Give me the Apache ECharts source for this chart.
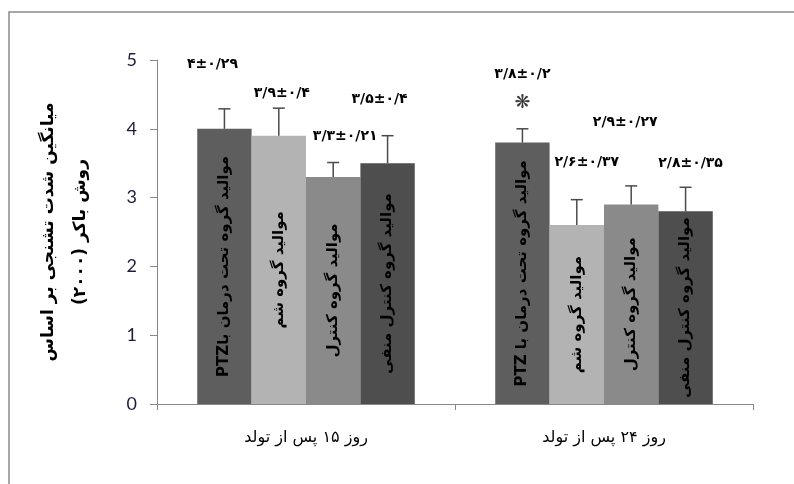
<!DOCTYPE html>
<html>
<head>
<meta charset="utf-8">
<script src="https://cdn.jsdelivr.net/npm/echarts@6/dist/echarts.min.js"></script>
<style>
  html, body { margin: 0; padding: 0; background: #fff; }
  #main { width: 794px; height: 484px; direction: rtl; }
</style>
</head>
<body>
<div id="main" dir="rtl"></div>
<script>
// canvas text is laid out right-to-left; the mean±sd labels are forced back to LTR
var LRM = '\u200E';

var categories = ['روز ۱۵ پس از تولد', 'روز ۲۴ پس از تولد'];

// one row per group of animals (four bars in each day)
var means = [
    [4.0, 3.8],
    [3.9, 2.6],
    [3.3, 2.9],
    [3.5, 2.8]
];
var errors = [
    [0.29, 0.2],
    [0.4, 0.37],
    [0.21, 0.27],
    [0.4, 0.35]
];
var valueLabels = [
    ['۴±۰/۲۹', '۳/۸±۰/۲'],
    ['۳/۹±۰/۴', '۲/۶±۰/۳۷'],
    ['۳/۳±۰/۲۱', '۲/۹±۰/۲۷'],
    ['۳/۵±۰/۴', '۲/۸±۰/۳۵']
];
var sigMarks = [
    ['', '❋'],
    ['', ''],
    ['', ''],
    ['', '']
];
var barNames = [
    ['موالید گروه تحت درمان باPTZ', 'موالید گروه تحت درمان با PTZ'],
    ['موالید گروه شم', 'موالید گروه شم'],
    ['موالید گروه کنترل', 'موالید گروه کنترل'],
    ['موالید گروه کنترل منفی', 'موالید گروه کنترل منفی']
];
var yTicks = [0, 1, 2, 3, 4, 5];

var barColors = ['#5e5e5e', '#b3b3b3', '#8a8a8a', '#4e4e4e'];
// where each mean±sd label sits, relative to the top of its error bar
var labelShift = [
    [[-12, -44], [0, -54]],
    [[3, -15], [10, -37]],
    [[12, -26], [-6, -64]],
    [[-8, -36], [5, -24]]
];
var catGap = 0.27;

var arFont = '"DejaVu Sans", sans-serif';

var series = [];
for (var s = 0; s < means.length; s++) {
    series.push({
        type: 'bar',
        barGap: '0%',
        barCategoryGap: (catGap * 100) + '%',
        data: means[s],
        itemStyle: { color: barColors[s] },
        label: {
            show: true,
            position: 'inside',
            rotate: 90,
            color: '#000',
            fontFamily: arFont,
            fontWeight: 'bold',
            fontSize: 15,
            formatter: (function (row) {
                return function (p) { return row[p.dataIndex]; };
            })(barNames[s])
        },
        z: 2
    });
}

var errData = [];
for (var s = 0; s < means.length; s++) {
    for (var c = 0; c < categories.length; c++) {
        errData.push([c, means[s][c], errors[s][c], s]);
    }
}

series.push({
    type: 'custom',
    data: errData,
    z: 5,
    renderItem: function (params, api) {
        var c = api.value(0), s = api.value(3);
        var base = api.coord([c, api.value(1)]);
        var top = api.coord([c, api.value(1) + api.value(2)]);
        var band = api.size([1, 0])[0];
        var barW = band * (1 - catGap) / means.length;
        var x = base[0] + (s - (means.length - 1) / 2) * barW;
        var sh = labelShift[s][c];
        var lineStyle = { stroke: '#4a4a4a', lineWidth: 1.5 };
        var children = [
            { type: 'line', shape: { x1: x, y1: base[1], x2: x, y2: top[1] }, style: lineStyle },
            { type: 'line', shape: { x1: x - 6, y1: top[1], x2: x + 6, y2: top[1] }, style: lineStyle },
            {
                type: 'text',
                x: x + sh[0],
                y: top[1] + sh[1],
                style: {
                    text: LRM + valueLabels[s][c] + LRM,
                    fill: '#000',
                    fontFamily: arFont,
                    fontWeight: 'bold',
                    fontSize: 14,
                    align: 'center',
                    verticalAlign: 'middle'
                }
            }
        ];
        if (sigMarks[s][c]) {
            children.push({
                type: 'text',
                x: x + sh[0],
                y: top[1] + sh[1] + 28,
                style: {
                    text: sigMarks[s][c],
                    fill: '#3a3a3a',
                    fontFamily: arFont,
                    fontSize: 19,
                    align: 'center',
                    verticalAlign: 'middle'
                }
            });
        }
        return { type: 'group', children: children };
    }
});

var myChart = echarts.init(document.getElementById('main'));
myChart.setOption({
    backgroundColor: '#fff',
    animation: false,
    graphic: [{
        type: 'rect',
        shape: { x: 9, y: 12, width: 900, height: 600 },
        style: { fill: null, stroke: '#8a8a8a', lineWidth: 1.5 },
        silent: true
    }],
    grid: {
        left: 157,
        right: 41,
        top: 60,
        bottom: 80
    },
    xAxis: {
        type: 'category',
        data: categories,
        axisLine: { lineStyle: { color: '#888', width: 1 } },
        axisTick: { show: true, length: 6, lineStyle: { color: '#888' } },
        axisLabel: {
            margin: 26,
            color: '#000',
            fontFamily: arFont,
            fontSize: 16
        }
    },
    yAxis: {
        type: 'value',
        min: yTicks[0],
        max: yTicks[yTicks.length - 1],
        interval: 1,
        name: 'میانگین شدت تشنجی بر اساس\nروش باکر (۲۰۰۰)',
        nameLocation: 'middle',
        nameRotate: 90,
        nameGap: 60,
        nameTextStyle: {
            color: '#000',
            fontFamily: arFont,
            fontWeight: 'bold',
            fontSize: 17,
            lineHeight: 32
        },
        axisLine: { show: true, lineStyle: { color: '#888', width: 1 } },
        axisTick: { show: true, length: 7, lineStyle: { color: '#888' } },
        splitLine: { show: false },
        axisLabel: {
            margin: 20,
            color: '#1e1e3c',
            fontFamily: 'Lato, sans-serif',
            fontSize: 18
        }
    },
    series: series
});
</script>
</body>
</html>
